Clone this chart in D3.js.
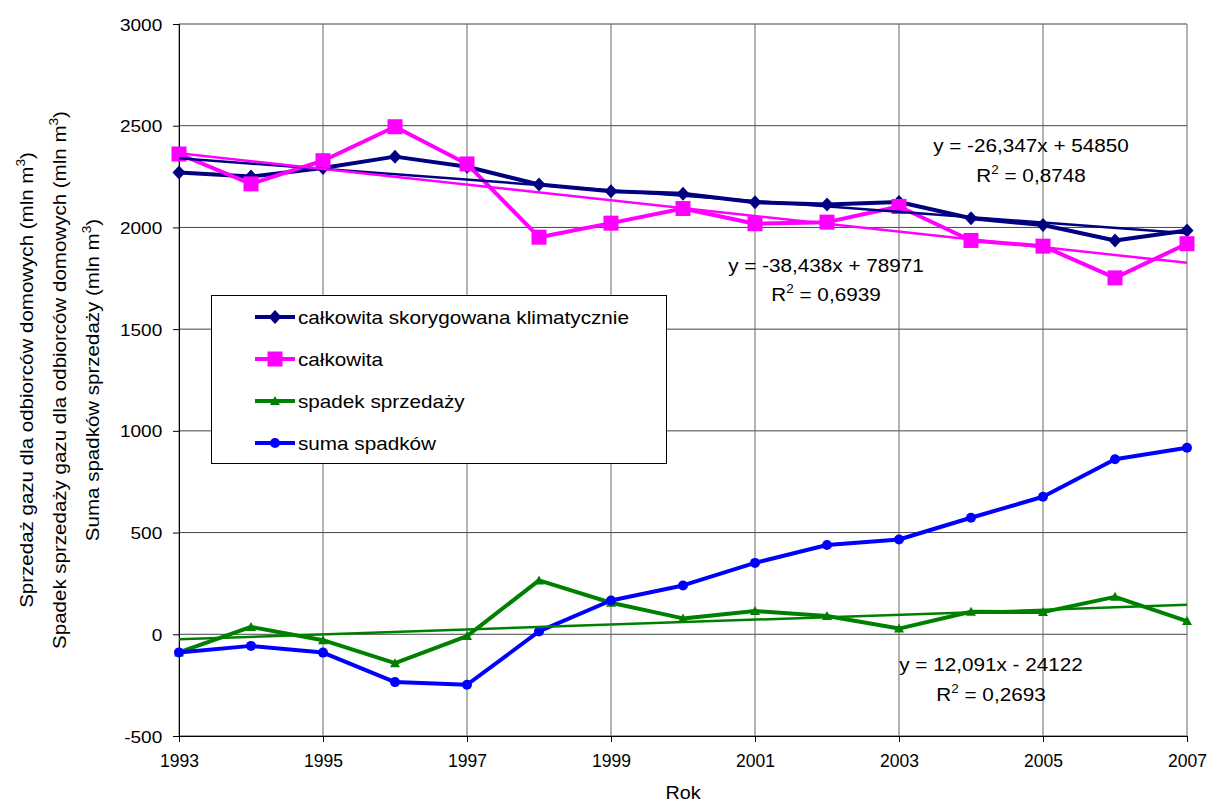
<!DOCTYPE html>
<html>
<head>
<meta charset="utf-8">
<title>Sprzedaż gazu</title>
<script src="https://d3js.org/d3.v7.min.js"></script>
<style>
  body { margin: 0; background: #fff; }
  text { font-family: "Liberation Sans", Arial, sans-serif; fill: #000; }
</style>
</head>
<body>
<div id="chart"></div>
<script>
// dane
var years = [1993, 1994, 1995, 1996, 1997, 1998, 1999, 2000, 2001, 2002, 2003, 2004, 2005, 2006, 2007];
var skorygowana = [2270, 2250, 2292, 2348, 2298, 2211, 2178, 2166, 2124, 2113, 2125, 2045, 2012, 1936, 1985];
var calkowita = [2361, 2214, 2328, 2495, 2312, 1952, 2021, 2093, 2018, 2026, 2103, 1936, 1908, 1752, 1920];
var spadek = [-89, 36, -29, -142, -9, 265, 155, 78, 114, 90, 28, 111, 109, 184, 65];
var suma = [-89, -57, -90, -235, -248, 14, 166, 240, 351, 439, 466, 573, 676, 860, 917];
var yTicks = [-500, 0, 500, 1000, 1500, 2000, 2500, 3000];
var xTicks = [1993, 1995, 1997, 1999, 2001, 2003, 2005, 2007];
var seriesNames = ["całkowita skorygowana klimatycznie", "całkowita", "spadek sprzedaży", "suma spadków"];
// linie trendu: y = a*x + b
var trendSlopes = [-26.347, -38.438, 12.091];
var trendIntercepts = [54850, 78971, -24122];
var trendEq = ["y = -26,347x + 54850", "y = -38,438x + 78971", "y = 12,091x - 24122"];
var trendR2 = ["0,8748", "0,6939", "0,2693"];

var W = 1208, H = 803;
var svg = d3.select("#chart").append("svg").attr("width", W).attr("height", H);

var x = d3.scaleLinear().domain([1993, 2007]).range([179, 1187]);
var y = d3.scaleLinear().domain([-500, 3000]).range([736, 24]);

// tekst rozciągnięty poziomo (jak w oryginale)
function txt(g, px, py, size, sx, anchor, rot) {
  return g.append("text")
    .attr("transform", "translate(" + px + "," + py + ")" + (rot ? " rotate(" + rot + ")" : "") + " scale(" + sx + ",1)")
    .attr("font-size", size + "px").attr("text-anchor", anchor || "start");
}

// siatka
svg.append("g").selectAll("line").data(yTicks).enter().append("line")
  .attr("x1", x(1993)).attr("x2", x(2007))
  .attr("y1", d => y(d)).attr("y2", d => y(d))
  .attr("stroke", "#444").attr("stroke-width", 1);
svg.append("g").selectAll("line").data(xTicks).enter().append("line")
  .attr("x1", d => x(d)).attr("x2", d => x(d))
  .attr("y1", y(3000)).attr("y2", y(-500))
  .attr("stroke", "#666").attr("stroke-width", 1);

// osie
var yAxis = svg.append("g").attr("transform", "translate(" + x(1993) + ",0)")
  .call(d3.axisLeft(y).tickValues(yTicks).tickFormat(d => String(d)).tickSize(6).tickPadding(10));
var xAxis = svg.append("g").attr("transform", "translate(0," + y(-500) + ")")
  .call(d3.axisBottom(x).tickValues(xTicks).tickFormat(d => String(d)).tickSize(6).tickPadding(12));
[yAxis, xAxis].forEach(function(a) {
  a.selectAll("line").attr("stroke", "#000");
  a.select(".domain").attr("stroke", "#000");
  a.selectAll("text").attr("fill", "#000").attr("font-family", "Liberation Sans, Arial, sans-serif");
});
yAxis.selectAll("text").attr("font-size", "17px").attr("dy", "0.36em")
  .attr("transform", "translate(-10,0) scale(1.12,1) translate(10,0)");
xAxis.selectAll("text").attr("font-size", "17.5px").attr("dy", "0.75em");

var colors = ["#000080", "#ff00ff", "#008000", "#0000ff"];
var allData = [skorygowana, calkowita, spadek, suma];

var line = d3.line().x((d, i) => x(years[i])).y(d => y(d));

function marker(g, type, color, cx, cy) {
  if (type === 0) {
    g.append("path").attr("d", "M0,-7L6.5,0L0,7L-6.5,0Z")
      .attr("transform", "translate(" + cx + "," + cy + ")").attr("fill", color);
  } else if (type === 1) {
    g.append("rect").attr("x", cx - 7.5).attr("y", cy - 7.5).attr("width", 15).attr("height", 15).attr("fill", color);
  } else if (type === 2) {
    g.append("path").attr("d", "M0,-5L5,4L-5,4Z")
      .attr("transform", "translate(" + cx + "," + cy + ")").attr("fill", color);
  } else {
    g.append("circle").attr("cx", cx).attr("cy", cy).attr("r", 5).attr("fill", color);
  }
}

allData.forEach(function(vals, k) {
  var g = svg.append("g");
  g.append("path").datum(vals).attr("d", line)
    .attr("fill", "none").attr("stroke", colors[k]).attr("stroke-width", 4)
    .attr("stroke-linejoin", "round");
  vals.forEach(function(v, i) { marker(g, k, colors[k], x(years[i]), y(v)); });
});

// linie trendu
trendSlopes.forEach(function(a, k) {
  var b = trendIntercepts[k];
  svg.append("line")
    .attr("x1", x(1993)).attr("y1", y(a * 1993 + b))
    .attr("x2", x(2007)).attr("y2", y(a * 2007 + b))
    .attr("stroke", colors[k]).attr("stroke-width", 2.5);
});

// równania
var eqPos = [[1031, 152, 182], [826, 272, 301], [991, 671, 701]];
trendEq.forEach(function(t, k) {
  var p = eqPos[k];
  txt(svg, p[0], p[1], 18.5, 1.12, "middle").text(t);
  var r = txt(svg, p[0], p[2], 18.5, 1.12, "middle");
  r.append("tspan").text("R");
  r.append("tspan").attr("font-size", "12px").attr("dy", -8).text("2");
  r.append("tspan").attr("dy", 8).text(" = " + trendR2[k]);
});

// legenda
var lg = svg.append("g");
lg.append("rect").attr("x", 211.5).attr("y", 295.5).attr("width", 455).attr("height", 168)
  .attr("fill", "#fff").attr("stroke", "#000").attr("stroke-width", 1);
seriesNames.forEach(function(n, k) {
  var ly = 317 + k * 42;
  lg.append("line").attr("x1", 255).attr("x2", 295).attr("y1", ly).attr("y2", ly)
    .attr("stroke", colors[k]).attr("stroke-width", 4);
  marker(lg, k, colors[k], 275, ly);
  txt(lg, 298, ly + 7, 18, 1.15).text(n);
});

// tytuły osi
var yTitles = [["Sprzedaż gazu dla odbiorców domowych (mln m", ")"],
               ["Spadek sprzedaży gazu dla odbiorców domowych (mln m", ")"],
               ["Suma spadków sprzedaży (mln m", ")"]];
var titleX = [33, 66, 99];
yTitles.forEach(function(t, k) {
  var tt = txt(svg, titleX[k], 380, 18, 1.14, "middle", -90);
  tt.append("tspan").text(t[0]);
  tt.append("tspan").attr("font-size", "12px").attr("dy", -8).text("3");
  tt.append("tspan").attr("dy", 8).text(t[1]);
});
txt(svg, 683, 799, 18.5, 1.07, "middle").text("Rok");
</script>
</body>
</html>
